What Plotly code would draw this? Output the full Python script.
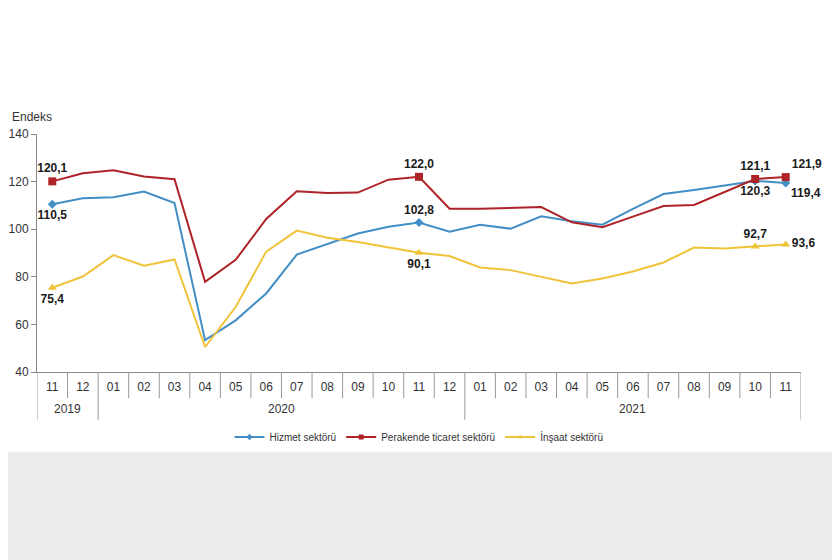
import plotly.graph_objects as go

# aylar ve yıllar (2019-11 ... 2021-11)
months = ["11", "12", "01", "02", "03", "04", "05", "06", "07", "08", "09", "10", "11", "12",
          "01", "02", "03", "04", "05", "06", "07", "08", "09", "10", "11"]
years = ["2019"] * 2 + ["2020"] * 12 + ["2021"] * 11

hizmet = [110.5, 113.0, 113.4, 115.8, 111.0, 53.4, 61.7, 73.0, 89.3, 93.7, 98.2, 101.0, 102.8,
          98.9, 101.9, 100.2, 105.4, 103.3, 101.9, 108.5, 114.8, 116.5, 118.3, 120.3, 119.4]
perakende = [120.1, 123.5, 124.8, 122.1, 121.0, 77.9, 87.1, 104.3, 115.9, 115.2, 115.4, 120.8, 122.0,
             108.6, 108.6, 109.0, 109.3, 102.9, 100.8, 105.3, 109.7, 110.2, 115.8, 121.1, 121.9]
insaat = [75.4, 80.1, 89.1, 84.7, 87.3, 50.5, 67.3, 90.6, 99.4, 96.4, 94.6, 92.3, 90.1,
          88.7, 83.9, 82.8, 80.0, 77.2, 79.3, 82.2, 86.0, 92.3, 91.9, 92.7, 93.6]

series_names = ["Hizmet sektörü", "Perakende ticaret sektörü", "İnşaat sektörü"]
colors = ["#438ec4", "#ae2328", "#f0c43a"]
symbols = ["diamond", "square", "triangle-up"]
msizes = [7, 8, 8]

# etiketlenen noktalar ve yazı konumları
label_pos = [
    {0: "bottom center", 12: "top center", 23: "bottom center", 24: "bottom right"},
    {0: "top center", 12: "top center", 23: "top center", 24: "top right"},
    {0: "bottom center", 12: "bottom center", 23: "top center", 24: "middle right"},
]

FONT = "Liberation Sans, Arial"
idx = list(range(len(months)))


def fmt(v):
    return f"{v:.1f}".replace(".", ",")


fig = go.Figure()
# önce çizgiler
for vals, name, col in zip([hizmet, perakende, insaat], series_names, colors):
    fig.add_trace(go.Scatter(
        x=idx, y=vals, name=name, mode="lines", line=dict(color=col, width=2),
        showlegend=False, hoverinfo="skip"))
# etiketli noktalar
for vals, col, sym, ms, lp in zip([hizmet, perakende, insaat], colors, symbols, msizes, label_pos):
    pts = sorted(lp)
    fig.add_trace(go.Scatter(
        x=pts, y=[vals[i] for i in pts], mode="markers+text", showlegend=False,
        marker=dict(symbol=sym, size=ms, color=col),
        text=[fmt(vals[i]) for i in pts], textposition=[lp[i] for i in pts],
        textfont=dict(family=FONT, size=12, color="#1a1a1a", weight="bold"),
        cliponaxis=False))
# lejant girdileri
for name, col, sym in zip(series_names, colors, symbols):
    fig.add_trace(go.Scatter(
        x=[None], y=[None], name=name, mode="lines+markers",
        line=dict(color=col, width=2), marker=dict(symbol=sym, size=5, color=col)))

# ay hücreleri ve yıl ayırıcıları
shapes = []
for i in range(len(months) + 1):
    new_year = i == 0 or i == len(months) or years[i] != years[i - 1]
    shapes.append(dict(type="line", xref="x", yref="paper", x0=i - 0.5, x1=i - 0.5,
                       y0=0, y1=-0.2 if new_year else -0.11,
                       line=dict(color="#999", width=1)))
shapes.append(dict(type="rect", xref="paper", yref="paper", x0=-0.06, x1=1.08, y0=-1.4, y1=-0.335,
                   fillcolor="#ececec", line=dict(width=0), layer="below"))

annotations = [dict(text="Endeks", xref="paper", yref="paper", x=-0.035, y=1.035,
                    xanchor="left", yanchor="bottom", showarrow=False,
                    font=dict(family=FONT, size=12, color="#333"))]
for y in dict.fromkeys(years):
    pos = [i for i, v in enumerate(years) if v == y]
    annotations.append(dict(text=y, xref="x", yref="paper", x=(pos[0] + pos[-1]) / 2, y=-0.155,
                            xanchor="center", yanchor="middle", showarrow=False,
                            font=dict(family=FONT, size=12, color="#333")))

fig.update_layout(
    width=840, height=560,
    margin=dict(l=29, r=47, t=126, b=196),
    paper_bgcolor="white", plot_bgcolor="white",
    font=dict(family=FONT, size=12, color="#333"),
    showlegend=True,
    legend=dict(orientation="h", x=0.5, xanchor="center", y=-0.273, yanchor="middle",
                font=dict(family=FONT, size=10, color="#333"), bgcolor="rgba(0,0,0,0)",
                itemwidth=30, tracegroupgap=0),
    xaxis=dict(
        range=[-0.5, len(months) - 0.5], tickmode="array", tickvals=idx, ticktext=months,
        showline=True, linecolor="#888", linewidth=1, ticks="", showgrid=False, zeroline=False,
        tickfont=dict(size=12, color="#333"), ticklabelstandoff=4, automargin=False,
    ),
    yaxis=dict(
        range=[40, 140], dtick=20, showline=True, linecolor="#888", linewidth=1,
        ticks="outside", ticklen=5, tickcolor="#888", showgrid=False, zeroline=False,
        tickfont=dict(size=12, color="#333"), automargin=False,
    ),
    annotations=annotations,
    shapes=shapes,
)

fig.write_html("out.html")
